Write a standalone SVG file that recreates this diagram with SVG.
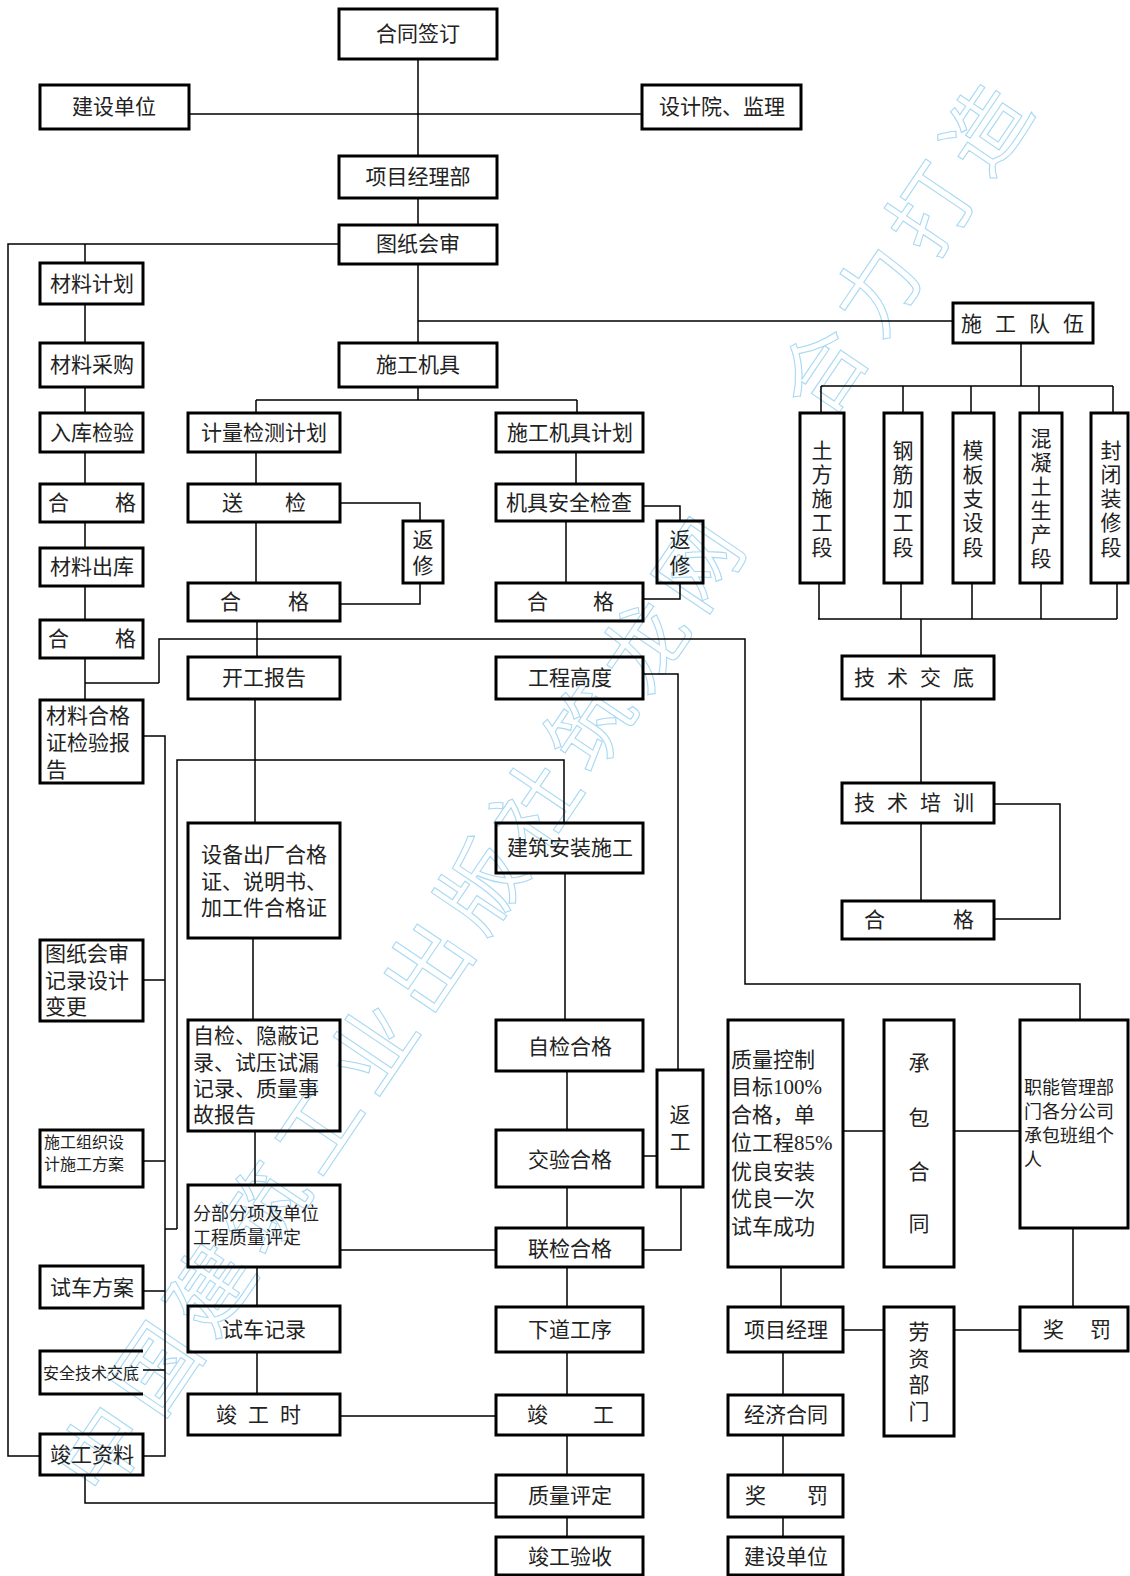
<svg xmlns="http://www.w3.org/2000/svg" width="1130" height="1576" viewBox="0 0 1130 1576">
<style>
.b{fill:none;stroke:#000;stroke-width:3}
.c{fill:none;stroke:#000;stroke-width:1.5}
text{font-family:"Liberation Serif","Noto Sans CJK SC",serif;font-size:21px;fill:#222;dominant-baseline:central}
.m{text-anchor:middle}
.s18{font-size:18px}
.s16{font-size:16px}
.wm{font-family:"Noto Sans CJK SC",sans-serif;font-size:84px;fill:none;stroke:#a8d9f4;stroke-width:1.1;letter-spacing:13px}
</style>
<rect width="1130" height="1576" fill="#fff"/>
<g id="watermark">
<text class="wm" transform="translate(97,1446) rotate(-56)" x="-42" y="0">中国建筑工业出版社筑龙网</text>
<text class="wm" transform="translate(818,367) rotate(-56)" x="-42" y="0">合力打造</text>
</g>
<g id="connectors" class="c">
<path d="M418,59V156M189,114H642M418,198V225M339,244H8V1456H40M85,244V263M418,264V343M418,321H953"/>
<path d="M1021,343V386M821,386H1113M821,386V413M903,386V413M971,386V413M1039,386V413M1113,386V413"/>
<path d="M819,583V619M901,583V619M972,583V619M1041,583V619M1117,583V619M818,619H1117M921,619V656"/>
<path d="M921,699V783M921,823V901M994,804H1060V919H994"/>
<path d="M418,387V400M256,400H577M256,400V413M577,400V413"/>
<path d="M256,452V484M256,522V583M340,503H420V521M420,583V604H340"/>
<path d="M576,452V484M566,521V583M643,506H680V521M680,583V599H643"/>
<path d="M85,304V343M85,387V413M85,452V484M85,522V548M85,586V620M85,658V700"/>
<path d="M159,683H85M159,683V639H745V984H1080V1020"/>
<path d="M257,621V657M255,699V823"/>
<path d="M177,1229V760H564V823"/>
<path d="M143,736H165V1456H143M143,980H165M143,1161H165M143,1291H165M143,1370H165M177,1229H165"/>
<path d="M253,938V1020M255,1131V1185M257,1267V1306M257,1352V1394"/>
<path d="M340,1250H496M340,1416H496"/>
<path d="M565,873V1020M567,1071V1130M567,1187V1228M567,1267V1307M567,1352V1395M567,1435V1475M567,1517V1537"/>
<path d="M643,674H678V1070M643,1156H657M681,1187V1250H643"/>
<path d="M85,1475V1503H496"/>
<path d="M843,1131H884M954,1131H1020"/>
<path d="M781,1267V1307M843,1330H884M954,1330H1020M1073,1228V1307"/>
<path d="M783,1352V1395M783,1435V1475M783,1517V1537"/>
</g>
<g id="n-hetong"><rect class="b" x="339" y="9" width="158" height="50"/><text class="m" x="418" y="34">合同签订</text></g>
<g id="n-jianshe1"><rect class="b" x="40" y="85" width="149" height="44"/><text class="m" x="114" y="107">建设单位</text></g>
<g id="n-sheji"><rect class="b" x="642" y="85" width="159" height="44"/><text class="m" x="722" y="107">设计院、监理</text></g>
<g id="n-xmjlb"><rect class="b" x="339" y="156" width="158" height="42"/><text class="m" x="418" y="177">项目经理部</text></g>
<g id="n-tzhs"><rect class="b" x="339" y="225" width="158" height="39"/><text class="m" x="418" y="244">图纸会审</text></g>
<g id="n-cljh"><rect class="b" x="40" y="263" width="103" height="41"/><text class="m" x="92" y="284">材料计划</text></g>
<g id="n-clcg"><rect class="b" x="40" y="343" width="103" height="44"/><text class="m" x="92" y="365">材料采购</text></g>
<g id="n-sgjj"><rect class="b" x="339" y="343" width="158" height="44"/><text class="m" x="418" y="365">施工机具</text></g>
<g id="n-sgdw"><rect class="b" x="953" y="303" width="140" height="40"/><text class="m" x="1029" y="324" style="letter-spacing:13px">施工队伍</text></g>
<g id="n-rkjy"><rect class="b" x="40" y="413" width="103" height="39"/><text class="m" x="92" y="433">入库检验</text></g>
<g id="n-jljc"><rect class="b" x="188" y="413" width="152" height="39"/><text class="m" x="264" y="433">计量检测计划</text></g>
<g id="n-sgjjjh"><rect class="b" x="496" y="413" width="147" height="39"/><text class="m" x="570" y="433">施工机具计划</text></g>
<g id="n-tf"><rect class="b" x="800" y="413" width="44" height="170"/><text class="m" x="822"><tspan x="822" y="451">土</tspan><tspan x="822" y="475">方</tspan><tspan x="822" y="499">施</tspan><tspan x="822" y="523">工</tspan><tspan x="822" y="548">段</tspan></text></g>
<g id="n-gj"><rect class="b" x="884" y="413" width="38" height="170"/><text class="m" x="903"><tspan x="903" y="451">钢</tspan><tspan x="903" y="475">筋</tspan><tspan x="903" y="499">加</tspan><tspan x="903" y="523">工</tspan><tspan x="903" y="548">段</tspan></text></g>
<g id="n-mb"><rect class="b" x="953" y="413" width="41" height="170"/><text class="m" x="973"><tspan x="973" y="451">模</tspan><tspan x="973" y="475">板</tspan><tspan x="973" y="499">支</tspan><tspan x="973" y="523">设</tspan><tspan x="973" y="548">段</tspan></text></g>
<g id="n-hnt"><rect class="b" x="1020" y="413" width="42" height="170"/><text class="m" x="1041"><tspan x="1041" y="439">混</tspan><tspan x="1041" y="463">凝</tspan><tspan x="1041" y="487">土</tspan><tspan x="1041" y="511">生</tspan><tspan x="1041" y="535">产</tspan><tspan x="1041" y="559">段</tspan></text></g>
<g id="n-fb"><rect class="b" x="1091" y="413" width="37" height="170"/><text class="m" x="1111"><tspan x="1111" y="451">封</tspan><tspan x="1111" y="475">闭</tspan><tspan x="1111" y="499">装</tspan><tspan x="1111" y="523">修</tspan><tspan x="1111" y="548">段</tspan></text></g>
<g id="n-hg1"><rect class="b" x="40" y="484" width="103" height="38"/><text y="503"><tspan x="48">合</tspan><tspan x="115">格</tspan></text></g>
<g id="n-sj"><rect class="b" x="188" y="484" width="152" height="38"/><text y="503"><tspan x="222">送</tspan><tspan x="285">检</tspan></text></g>
<g id="n-jjaq"><rect class="b" x="496" y="484" width="147" height="37"/><text class="m" x="569" y="503">机具安全检查</text></g>
<g id="n-fx1"><rect class="b" x="403" y="521" width="40" height="62"/><text class="m" x="423"><tspan x="423" y="540">返</tspan><tspan x="423" y="566">修</tspan></text></g>
<g id="n-fx2"><rect class="b" x="657" y="521" width="46" height="62"/><text class="m" x="680"><tspan x="680" y="540">返</tspan><tspan x="680" y="566">修</tspan></text></g>
<g id="n-clck"><rect class="b" x="40" y="548" width="103" height="38"/><text class="m" x="92" y="567">材料出库</text></g>
<g id="n-hg2"><rect class="b" x="188" y="583" width="152" height="38"/><text y="602"><tspan x="220">合</tspan><tspan x="288">格</tspan></text></g>
<g id="n-hg3"><rect class="b" x="496" y="583" width="147" height="38"/><text y="602"><tspan x="527">合</tspan><tspan x="593">格</tspan></text></g>
<g id="n-hg4"><rect class="b" x="40" y="620" width="103" height="38"/><text y="639"><tspan x="48">合</tspan><tspan x="115">格</tspan></text></g>
<g id="n-kgbg"><rect class="b" x="188" y="657" width="152" height="42"/><text class="m" x="264" y="678">开工报告</text></g>
<g id="n-gcgd"><rect class="b" x="496" y="657" width="147" height="42"/><text class="m" x="570" y="678">工程高度</text></g>
<g id="n-jsjd"><rect class="b" x="842" y="656" width="152" height="43"/><text class="m" x="920" y="678" style="letter-spacing:12px">技术交底</text></g>
<g id="n-clhgz"><rect class="b" x="40" y="700" width="103" height="83"/><text x="46"><tspan x="46" y="716">材料合格</tspan><tspan x="46" y="743">证检验报</tspan><tspan x="46" y="770">告</tspan></text></g>
<g id="n-jspx"><rect class="b" x="842" y="783" width="152" height="40"/><text class="m" x="920" y="803" style="letter-spacing:12px">技术培训</text></g>
<g id="n-sbcc"><rect class="b" x="188" y="823" width="152" height="115"/><text x="201"><tspan x="201" y="855">设备出厂合格</tspan><tspan x="201" y="882">证、说明书、</tspan><tspan x="201" y="908">加工件合格证</tspan></text></g>
<g id="n-jzaz"><rect class="b" x="496" y="823" width="147" height="50"/><text class="m" x="570" y="848">建筑安装施工</text></g>
<g id="n-hg5"><rect class="b" x="842" y="901" width="152" height="38"/><text y="920"><tspan x="864">合</tspan><tspan x="953">格</tspan></text></g>
<g id="n-tzjl"><rect class="b" x="40" y="940" width="103" height="81"/><text x="45"><tspan x="45" y="954">图纸会审</tspan><tspan x="45" y="981">记录设计</tspan><tspan x="45" y="1007">变更</tspan></text></g>
<g id="n-zjyb"><rect class="b" x="188" y="1020" width="152" height="111"/><text x="193"><tspan x="193" y="1036">自检、隐蔽记</tspan><tspan x="193" y="1063">录、试压试漏</tspan><tspan x="193" y="1089">记录、质量事</tspan><tspan x="193" y="1115">故报告</tspan></text></g>
<g id="n-zjhg"><rect class="b" x="496" y="1020" width="147" height="51"/><text class="m" x="570" y="1047">自检合格</text></g>
<g id="n-zlkz"><rect class="b" x="728" y="1020" width="115" height="247"/><text x="731"><tspan x="731" y="1060">质量控制</tspan><tspan x="731" y="1087">目标100%</tspan><tspan x="731" y="1115">合格，单</tspan><tspan x="731" y="1143">位工程85%</tspan><tspan x="731" y="1172">优良安装</tspan><tspan x="731" y="1199">优良一次</tspan><tspan x="731" y="1227">试车成功</tspan></text></g>
<g id="n-cbht"><rect class="b" x="884" y="1020" width="70" height="247"/><text class="m" x="919"><tspan x="919" y="1063">承</tspan><tspan x="919" y="1118">包</tspan><tspan x="919" y="1172">合</tspan><tspan x="919" y="1224">同</tspan></text></g>
<g id="n-zn"><rect class="b" x="1020" y="1020" width="108" height="208"/><text class="s18" x="1024"><tspan x="1024" y="1088">职能管理部</tspan><tspan x="1024" y="1112">门各分公司</tspan><tspan x="1024" y="1136">承包班组个</tspan><tspan x="1024" y="1160">人</tspan></text></g>
<g id="n-fg"><rect class="b" x="657" y="1070" width="46" height="117"/><text class="m" x="680"><tspan x="680" y="1115">返</tspan><tspan x="680" y="1142">工</tspan></text></g>
<g id="n-sgzz"><rect class="b" x="40" y="1130" width="103" height="57"/><text class="s16" x="44"><tspan x="44" y="1142">施工组织设</tspan><tspan x="44" y="1164">计施工方案</tspan></text></g>
<g id="n-jyhg"><rect class="b" x="496" y="1130" width="147" height="57"/><text class="m" x="570" y="1160">交验合格</text></g>
<g id="n-fbfx"><rect class="b" x="188" y="1185" width="152" height="82"/><text class="s18" x="193"><tspan x="193" y="1214">分部分项及单位</tspan><tspan x="193" y="1238">工程质量评定</tspan></text></g>
<g id="n-ljhg"><rect class="b" x="496" y="1228" width="147" height="39"/><text class="m" x="570" y="1249">联检合格</text></g>
<g id="n-scfa"><rect class="b" x="40" y="1266" width="103" height="42"/><text class="m" x="92" y="1288">试车方案</text></g>
<g id="n-scjl"><rect class="b" x="188" y="1306" width="152" height="46"/><text class="m" x="264" y="1330">试车记录</text></g>
<g id="n-xdgx"><rect class="b" x="496" y="1307" width="147" height="45"/><text class="m" x="570" y="1330">下道工序</text></g>
<g id="n-xmjl"><rect class="b" x="728" y="1307" width="115" height="45"/><text class="m" x="786" y="1330">项目经理</text></g>
<g id="n-lzbm"><rect class="b" x="884" y="1307" width="70" height="129"/><text class="m" x="919"><tspan x="919" y="1332">劳</tspan><tspan x="919" y="1359">资</tspan><tspan x="919" y="1385">部</tspan><tspan x="919" y="1412">门</tspan></text></g>
<g id="n-jf1"><rect class="b" x="1020" y="1307" width="108" height="44"/><text y="1330"><tspan x="1043">奖</tspan><tspan x="1090">罚</tspan></text></g>
<g id="n-aqjs"><path class="b" d="M143,1351H40V1394H143"/><text class="s16" x="43" y="1373">安全技术交底</text></g>
<g id="n-jgs"><rect class="b" x="188" y="1394" width="152" height="41"/><text class="m" x="264" y="1415" style="letter-spacing:11px">竣工时</text></g>
<g id="n-jg"><rect class="b" x="496" y="1395" width="147" height="40"/><text y="1415"><tspan x="527">竣</tspan><tspan x="593">工</tspan></text></g>
<g id="n-jjht"><rect class="b" x="728" y="1395" width="115" height="40"/><text class="m" x="786" y="1415">经济合同</text></g>
<g id="n-jgzl"><rect class="b" x="40" y="1434" width="103" height="41"/><text class="m" x="92" y="1455">竣工资料</text></g>
<g id="n-zlpd"><rect class="b" x="496" y="1475" width="147" height="42"/><text class="m" x="570" y="1496">质量评定</text></g>
<g id="n-jf2"><rect class="b" x="728" y="1475" width="115" height="42"/><text y="1496"><tspan x="745">奖</tspan><tspan x="807">罚</tspan></text></g>
<g id="n-jgys"><rect class="b" x="496" y="1537" width="147" height="38"/><text class="m" x="570" y="1557">竣工验收</text></g>
<g id="n-jianshe2"><rect class="b" x="728" y="1537" width="115" height="38"/><text class="m" x="786" y="1557">建设单位</text></g>
</svg>
